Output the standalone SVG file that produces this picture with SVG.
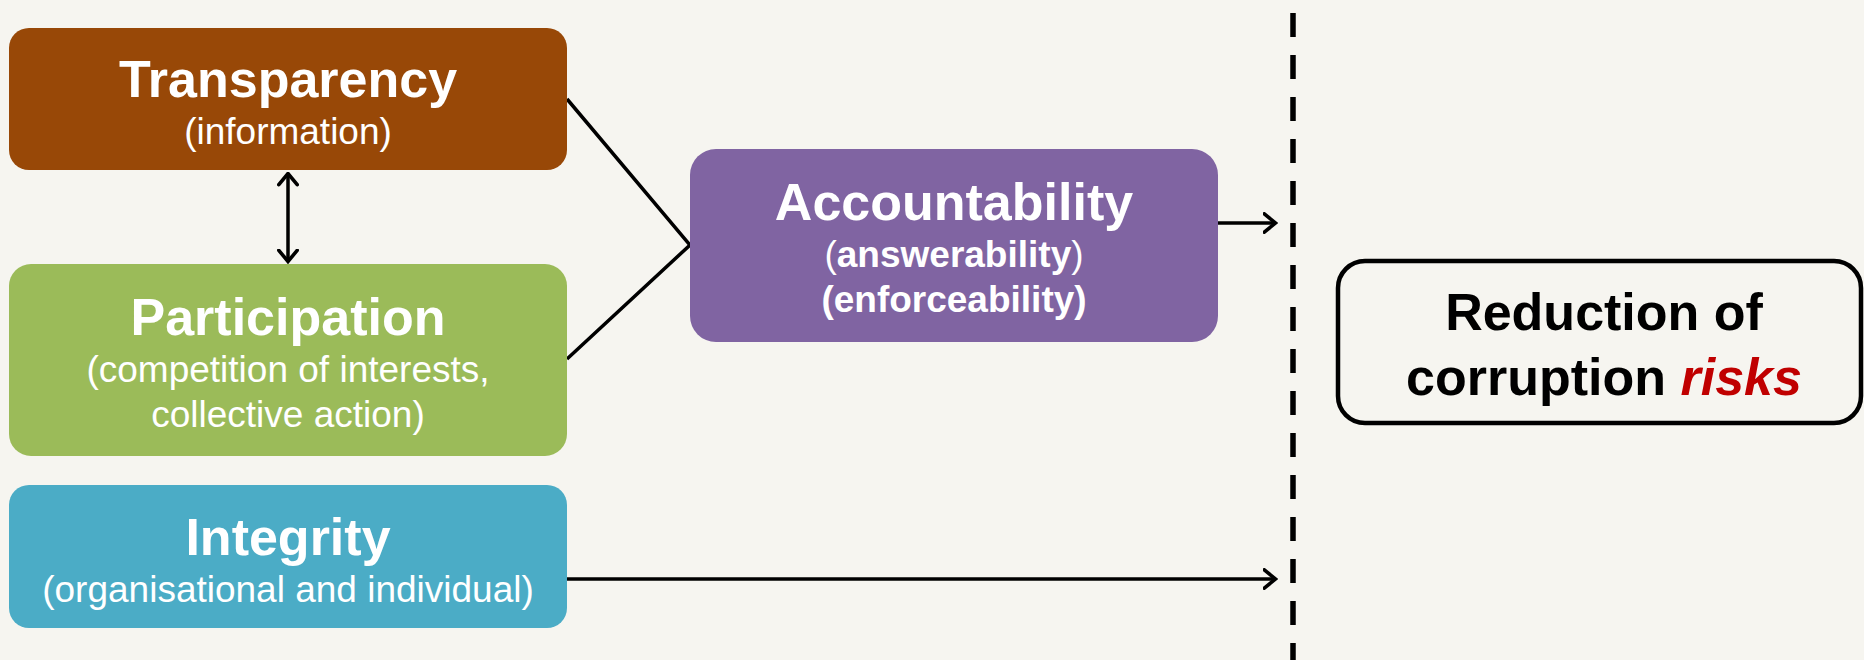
<svg xmlns="http://www.w3.org/2000/svg" width="1864" height="660" viewBox="0 0 1864 660">
<style>
.t{font-family:"Liberation Sans",Arial,sans-serif;fill:#fff;text-anchor:middle}
.b{font-weight:bold}
.big{font-size:52px;font-weight:bold}
.sub{font-size:37px}
.ln{stroke:#000;stroke-width:3.5;fill:none}
</style>
<defs>
<marker id="ah" viewBox="0 0 15 22" refX="13.5" refY="11" markerWidth="15" markerHeight="22" markerUnits="userSpaceOnUse" orient="auto-start-reverse">
<path d="M1.8,1.8 L13,11 L1.8,20.2" fill="none" stroke="#000" stroke-width="3.6" stroke-linecap="round" stroke-linejoin="miter"/>
</marker>
</defs>
<rect x="0" y="0" width="1864" height="660" fill="#F6F5F0"/>
<g id="connectors">
<line x1="1293" y1="13" x2="1293" y2="660" stroke="#000" stroke-width="5.5" stroke-dasharray="24 18"/>
<polyline class="ln" points="567,99 690,245 567,359"/>
<line class="ln" x1="288" y1="173" x2="288" y2="262" marker-start="url(#ah)" marker-end="url(#ah)"/>
<line class="ln" x1="1218" y1="223" x2="1276" y2="223" marker-end="url(#ah)"/>
<line class="ln" x1="567" y1="579" x2="1276" y2="579" marker-end="url(#ah)"/>
</g>
<g id="transparency">
<rect x="9" y="28" width="558" height="142" rx="20" fill="#984807"/>
<text class="t big" x="288" y="97">Transparency</text>
<text class="t sub" x="288" y="144">(information)</text>
</g>
<g id="participation">
<rect x="9" y="264" width="558" height="192" rx="22" fill="#9BBB59"/>
<text class="t big" x="288" y="335">Participation</text>
<text class="t sub" x="288" y="382">(competition of interests,</text>
<text class="t sub" x="288" y="427">collective action)</text>
</g>
<g id="integrity">
<rect x="9" y="485" width="558" height="143" rx="20" fill="#4BACC6"/>
<text class="t big" x="288" y="555">Integrity</text>
<text class="t sub" x="288" y="602">(organisational and individual)</text>
</g>
<g id="accountability">
<rect x="690" y="149" width="528" height="193" rx="26" fill="#8064A2"/>
<text class="t big" x="954" y="220">Accountability</text>
<text class="t sub" x="954" y="267">(<tspan class="b">answerability</tspan>)</text>
<text class="t sub b" x="954" y="312">(enforceability)</text>
</g>
<g id="reduction">
<rect x="1338" y="261" width="523" height="162" rx="27" fill="none" stroke="#000" stroke-width="4.5"/>
<text class="t big" x="1604" y="330" style="fill:#000">Reduction of</text>
<text class="t big" x="1604" y="395" style="fill:#000">corruption <tspan style="fill:#C00000;font-style:italic">risks</tspan></text>
</g>
</svg>
